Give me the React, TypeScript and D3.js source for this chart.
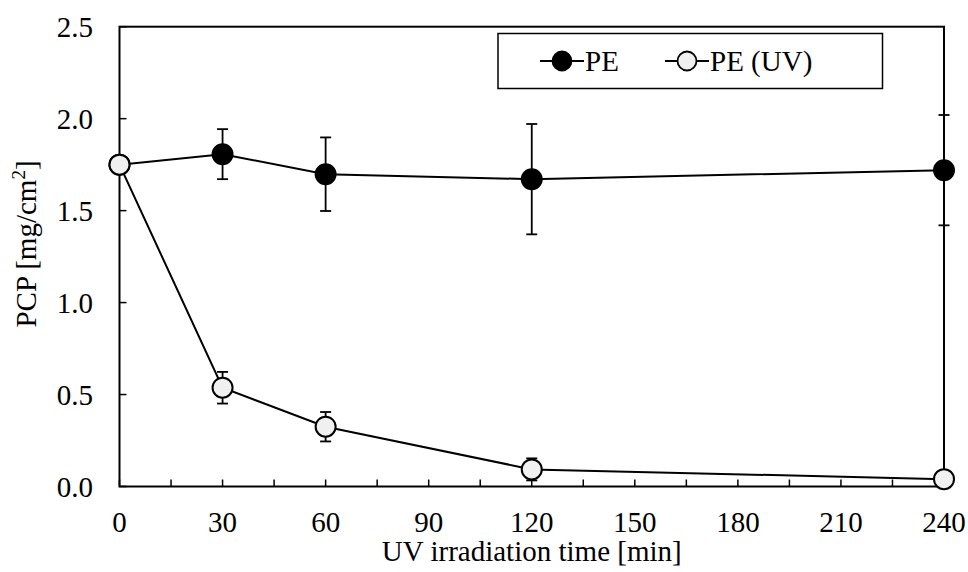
import React from "react";
import * as d3 from "d3";

const times = [0, 30, 60, 120, 240];
const peValues = [1.75, 1.807, 1.698, 1.671, 1.72];
const peErrors = [0, 0.136, 0.2, 0.3, 0.3];
const uvValues = [1.75, 0.537, 0.325, 0.093, 0.04];
const uvErrors = [0, 0.086, 0.08, 0.06, 0];
const xTickLabels = [0, 30, 60, 90, 120, 150, 180, 210, 240];
const xMinorTicks = d3.range(0, 241, 15);
const yTickLabels = [0, 0.5, 1.0, 1.5, 2.0, 2.5];
const seriesNames = ["PE", "PE (UV)"];

const W = 968;
const H = 572;
const left = 119.5;
const right = 944;
const top = 26.7;
const bottom = 486.5;
const FONT = "'Liberation Serif', 'Times New Roman', serif";
const FS = 29;

export default function App() {
  const x = d3.scaleLinear().domain([0, 240]).range([left, right]);
  const y = d3.scaleLinear().domain([0, 2.5]).range([bottom, top]);
  const line = d3
    .line<number>()
    .x((_, i) => x(times[i]))
    .y((d) => y(d));

  const series = [
    { values: peValues, errors: peErrors, fill: "#000000" },
    { values: uvValues, errors: uvErrors, fill: "#f0f0f0" },
  ];

  const legendX = [540, 665];
  const sampleLen = 44;

  return (
    <svg
      width={W}
      height={H}
      style={{ position: "absolute", left: 0, top: 0, background: "#fff" }}
      fontFamily={FONT}
    >
      <rect x={0} y={0} width={W} height={H} fill="#fff" />
      <rect
        x={left}
        y={top}
        width={right - left}
        height={bottom - top}
        fill="none"
        stroke="#000"
        strokeWidth={2}
      />
      {xMinorTicks.map((t) => (
        <line
          key={"xt" + t}
          x1={x(t)}
          x2={x(t)}
          y1={bottom}
          y2={bottom - 7}
          stroke="#000"
          strokeWidth={1.5}
        />
      ))}
      {yTickLabels.map((t) => (
        <line
          key={"yt" + t}
          x1={left}
          x2={left + 7}
          y1={y(t)}
          y2={y(t)}
          stroke="#000"
          strokeWidth={1.5}
        />
      ))}
      {xTickLabels.map((t) => (
        <text
          key={"xl" + t}
          x={x(t)}
          y={531.5}
          fontSize={FS}
          textAnchor="middle"
          fill="#000"
        >
          {t}
        </text>
      ))}
      {yTickLabels.map((t) => (
        <text
          key={"yl" + t}
          x={93}
          y={y(t) + 10}
          fontSize={FS}
          textAnchor="end"
          fill="#000"
        >
          {t.toFixed(1)}
        </text>
      ))}
      <text
        x={(left + right) / 2}
        y={561}
        fontSize={FS}
        textAnchor="middle"
        fill="#000"
      >
        UV irradiation time [min]
      </text>
      <text
        transform={`translate(36,244) rotate(-90)`}
        fontSize={FS}
        textAnchor="middle"
        fill="#000"
      >
        PCP [mg/cm<tspan dy={-11} fontSize={19}>2</tspan>
        <tspan dy={11}>]</tspan>
      </text>

      {series.map((s, si) => (
        <g key={"s" + si}>
          <path d={line(s.values) || ""} fill="none" stroke="#000" strokeWidth={2} />
          {s.values.map((v, i) =>
            s.errors[i] > 0 ? (
              <g key={"e" + i} stroke="#000" strokeWidth={1.8}>
                <line
                  x1={x(times[i])}
                  x2={x(times[i])}
                  y1={y(v - s.errors[i])}
                  y2={y(v + s.errors[i])}
                />
                <line
                  x1={x(times[i]) - 5.5}
                  x2={x(times[i]) + 5.5}
                  y1={y(v - s.errors[i])}
                  y2={y(v - s.errors[i])}
                />
                <line
                  x1={x(times[i]) - 5.5}
                  x2={x(times[i]) + 5.5}
                  y1={y(v + s.errors[i])}
                  y2={y(v + s.errors[i])}
                />
              </g>
            ) : null
          )}
          {s.values.map((v, i) => (
            <circle
              key={"c" + i}
              cx={x(times[i])}
              cy={y(v)}
              r={10}
              fill={s.fill}
              stroke="#000"
              strokeWidth={2}
            />
          ))}
        </g>
      ))}

      <rect
        x={498}
        y={33.5}
        width={384.5}
        height={55}
        fill="#fff"
        stroke="#000"
        strokeWidth={1.5}
      />
      {seriesNames.map((name, i) => {
        const lx = legendX[i];
        const cy = 61;
        return (
          <g key={"lg" + i}>
            <line
              x1={lx}
              x2={lx + sampleLen}
              y1={cy}
              y2={cy}
              stroke="#000"
              strokeWidth={2}
            />
            <circle
              cx={lx + sampleLen / 2}
              cy={cy}
              r={9.5}
              fill={series[i].fill}
              stroke="#000"
              strokeWidth={1.8}
            />
            <text x={lx + sampleLen + 1} y={cy + 10} fontSize={FS} fill="#000">
              {name}
            </text>
          </g>
        );
      })}
    </svg>
  );
}
